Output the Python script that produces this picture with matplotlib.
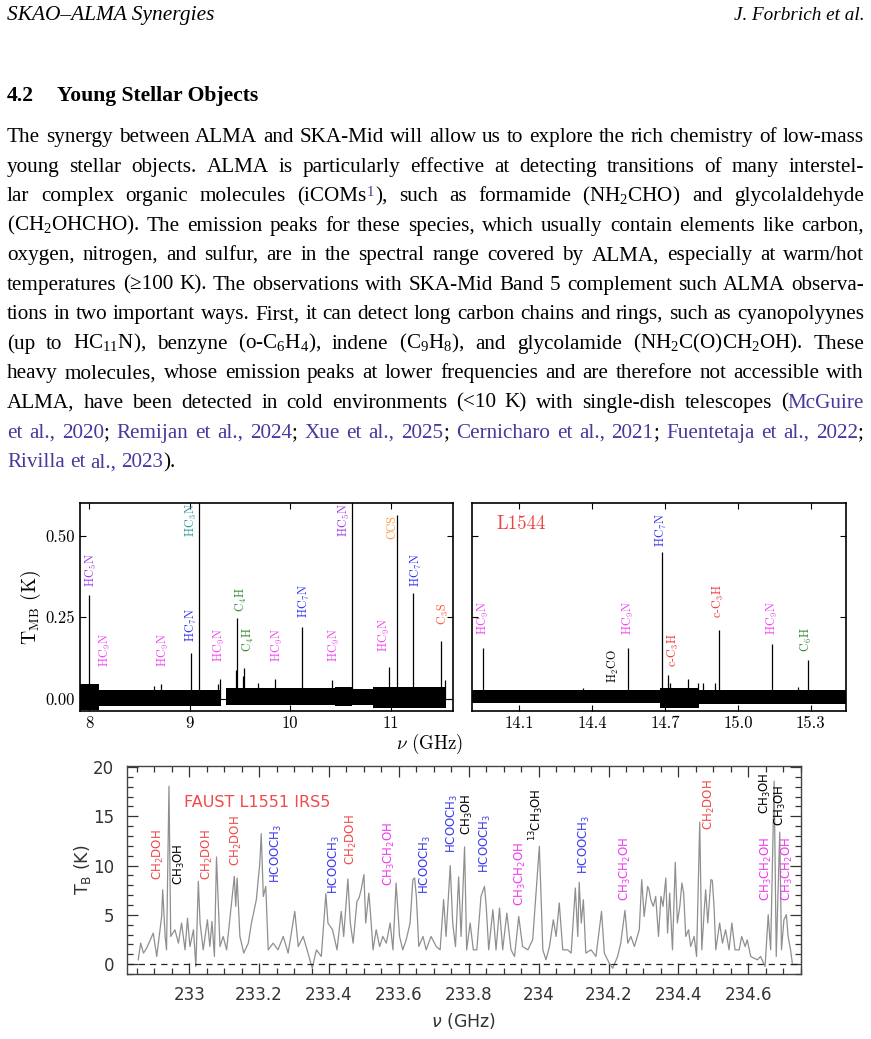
import matplotlib
matplotlib.use('Agg')
from matplotlib import pyplot as plt
import numpy as np

plt.rcParams['mathtext.fontset'] = 'custom'
plt.rcParams['mathtext.rm'] = 'Liberation Serif'
plt.rcParams['mathtext.it'] = 'Liberation Serif:italic'
plt.rcParams['mathtext.bf'] = 'Liberation Serif:bold'

W, H = 871, 1039
CITE = '#463a9c'
K = 'black'

# ---------------- page text ----------------
body = [
    [("The synergy between ALMA and SKA-Mid will allow us to explore the rich chemistry of low-mass", K)],
    [("young stellar objects.  ALMA is particularly effective at detecting transitions of many interstel-", K)],
    [("lar complex organic molecules (iCOMs", K), ("$^1$", CITE), ("), such as formamide (NH$_2$CHO) and glycolaldehyde", K)],
    [("(CH$_2$OHCHO). The emission peaks for these species, which usually contain elements like carbon,", K)],
    [("oxygen, nitrogen, and sulfur, are in the spectral range covered by ALMA, especially at warm/hot", K)],
    [("temperatures (\u2265100 K). The observations with SKA-Mid Band 5 complement such ALMA observa-", K)],
    [("tions in two important ways. First, it can detect long carbon chains and rings, such as cyanopolyynes", K)],
    [("(up to HC$_{11}$N), benzyne (o-C$_6$H$_4$), indene (C$_9$H$_8$), and glycolamide (NH$_2$C(O)CH$_2$OH). These", K)],
    [("heavy molecules, whose emission peaks at lower frequencies and are therefore not accessible with", K)],
    [("ALMA, have been detected in cold environments (<10 K) with single-dish telescopes (", K), ("McGuire", CITE)],
    [("et al., 2020", CITE), ("; ", K), ("Remijan et al., 2024", CITE), ("; ", K), ("Xue et al., 2025", CITE), ("; ", K),
     ("Cernicharo et al., 2021", CITE), ("; ", K), ("Fuentetaja et al., 2022", CITE), (";", K)],
    [("Rivilla et al., 2023", CITE), (").", K)],
]

# ---------------- top left: 8-11.6 GHz ----------------
tl_band_lo = [7.91, 8.10, 9.36, 10.45, 10.62, 10.82]
tl_band_hi = [8.10, 9.31, 10.45, 10.62, 10.82, 11.55]
tl_band_top = [0.045, 0.028, 0.034, 0.038, 0.031, 0.038]
tl_band_bot = [-0.034, -0.021, -0.018, -0.023, -0.020, -0.028]
tl_line_freq = [7.999, 8.645, 8.714, 9.012, 9.092, 9.283, 9.307, 9.466, 9.476, 9.532, 9.542,
                9.681, 9.853, 10.121, 10.419, 10.614, 10.988, 11.065, 11.227, 11.505, 11.545]
tl_line_peak = [0.318, 0.040, 0.045, 0.140, 0.700, 0.045, 0.060, 0.089, 0.248, 0.070, 0.095,
                0.050, 0.061, 0.221, 0.058, 0.700, 0.099, 0.563, 0.324, 0.178, 0.058]
tl_lab_text = ['HC$_5$N', 'HC$_9$N', 'HC$_9$N', 'HC$_7$N', 'HC$_3$N', 'HC$_9$N', 'C$_4$H', 'C$_4$H',
               'HC$_9$N', 'HC$_7$N', 'HC$_9$N', 'HC$_5$N', 'HC$_9$N', 'CCS', 'HC$_7$N', 'C$_3$S']
tl_lab_freq = [8.026, 8.168, 8.737, 9.019, 9.019, 9.300, 9.516, 9.581,
               9.879, 10.144, 10.442, 10.542, 10.939, 11.015, 11.254, 11.528]
tl_lab_base = [0.343, 0.099, 0.099, 0.175, 0.496, 0.114, 0.267, 0.145,
               0.114, 0.247, 0.114, 0.496, 0.145, 0.491, 0.343, 0.226]
tl_lab_col = ['#9a3be8', '#ee44ee', '#ee44ee', '#3030f0', '#2f9a9a', '#ee44ee', '#2f8a2f', '#2f8a2f',
              '#ee44ee', '#3030f0', '#ee44ee', '#9a3be8', '#ee44ee', '#ff9a3a', '#3030f0', '#ff5a3a']

# ---------------- top right: L1544 ----------------
tr_band_lo = [13.906, 14.68, 14.84]
tr_band_hi = [14.68, 14.84, 15.444]
tr_band_top = [0.028, 0.034, 0.028]
tr_band_bot = [-0.013, -0.028, -0.015]
tr_line_freq = [13.952, 14.364, 14.546, 14.686, 14.711, 14.720, 14.794, 14.837, 14.858, 14.906,
                14.924, 15.142, 15.247, 15.288]
tr_line_peak = [0.155, 0.034, 0.157, 0.450, 0.073, 0.050, 0.060, 0.050, 0.050, 0.050,
                0.211, 0.168, 0.035, 0.119]
tr_lab_text = ['HC$_9$N', 'H$_2$CO', 'HC$_9$N', 'HC$_7$N', 'c-C$_3$H', 'c-C$_3$H', 'HC$_9$N', 'C$_6$H']
tr_lab_freq = [13.952, 14.487, 14.549, 14.686, 14.734, 14.920, 15.142, 15.284]
tr_lab_base = [0.196, 0.049, 0.196, 0.466, 0.099, 0.247, 0.196, 0.145]
tr_lab_col = ['#ee44ee', 'black', '#ee44ee', '#3030f0', '#ee3a3a', '#ee3a3a', '#ee44ee', '#2f8a2f']

# ---------------- bottom: FAUST L1551 IRS5 ----------------
sp_freq = [232.854, 232.861, 232.869, 232.878, 232.897, 232.907, 232.921, 232.924, 232.931, 232.935,
           232.942, 232.947, 232.959, 232.969, 232.978, 232.988, 232.995, 233.002, 233.012, 233.019,
           233.026, 233.031, 233.040, 233.052, 233.059, 233.065, 233.072, 233.078, 233.088, 233.097,
           233.107, 233.116, 233.129, 233.133, 233.137, 233.145, 233.156, 233.169, 233.178, 233.192,
           233.202, 233.206, 233.212, 233.219, 233.226, 233.240, 233.254, 233.269, 233.283, 233.302,
           233.312, 233.326, 233.340, 233.352, 233.364, 233.378, 233.391, 233.397, 233.410, 233.423,
           233.435, 233.442, 233.454, 233.461, 233.469, 233.480, 233.486, 233.492, 233.500, 233.505,
           233.514, 233.518, 233.526, 233.535, 233.545, 233.554, 233.564, 233.575, 233.583, 233.592,
           233.602, 233.611, 233.621, 233.632, 233.640, 233.645, 233.650, 233.657, 233.669, 233.678,
           233.692, 233.707, 233.718, 233.728, 233.735, 233.747, 233.754, 233.762, 233.771, 233.778,
           233.788, 233.794, 233.804, 233.813, 233.823, 233.835, 233.845, 233.850, 233.857, 233.869,
           233.878, 233.888, 233.897, 233.909, 233.921, 233.931, 233.943, 233.954, 233.969, 233.983,
           234.002, 234.012, 234.021, 234.031, 234.042, 234.050, 234.059, 234.069, 234.083, 234.093,
           234.105, 234.112, 234.116, 234.122, 234.128, 234.135, 234.150, 234.164, 234.180, 234.188,
           234.202, 234.212, 234.226, 234.235, 234.247, 234.255, 234.264, 234.274, 234.288, 234.295,
           234.302, 234.312, 234.316, 234.321, 234.328, 234.335, 234.343, 234.350, 234.356, 234.364,
           234.369, 234.375, 234.383, 234.391, 234.397, 234.404, 234.410, 234.415, 234.421, 234.429,
           234.435, 234.445, 234.452, 234.461, 234.467, 234.474, 234.478, 234.484, 234.493, 234.497,
           234.502, 234.507, 234.518, 234.526, 234.535, 234.545, 234.553, 234.562, 234.574, 234.581,
           234.591, 234.597, 234.607, 234.616, 234.626, 234.635, 234.648, 234.657, 234.664, 234.674,
           234.680, 234.690, 234.695, 234.702, 234.709, 234.714, 234.721, 234.726]
sp_temp = [0.44, 2.13, 1.12, 1.62, 3.15, 0.78, 4.84, 7.55, 2.81, 1.45,
           18.05, 2.81, 3.49, 2.13, 4.17, 1.45, 4.67, 1.79, 3.49, -0.24,
           8.40, 4.17, 1.45, 4.50, 1.79, 4.34, 0.78, 10.87, 1.79, 2.81,
           1.45, 4.50, 8.91, 5.86, 8.74, 2.81, 1.12, 2.13, 4.17, 6.54,
           10.26, 13.24, 6.87, 7.89, 1.45, 2.13, 1.45, 2.81, 1.12, 5.35,
           1.79, 2.81, 1.12, -0.41, 1.45, 0.78, 7.15, 4.17, 3.49, 1.45,
           5.35, 2.81, 8.64, 4.17, 2.13, 6.37, 6.71, 7.55, 9.08, 4.17,
           7.21, 5.52, 1.45, 3.49, 1.79, 2.81, 2.13, 4.17, 1.45, 8.23,
           2.81, 1.45, 2.47, 4.17, 8.57, 8.74, 6.87, 1.79, 2.81, 1.45,
           2.81, 1.79, 1.45, 6.54, 2.81, 9.99, 4.17, 1.79, 8.84, 2.81,
           11.89, 1.45, 4.17, 1.45, 1.45, 6.87, 7.89, 5.86, 1.45, 5.52,
           1.45, 5.69, 1.45, 5.18, 1.45, 0.78, 4.84, 1.79, 1.45, 2.47,
           11.96, 1.45, 0.44, 1.79, 4.50, 2.81, 6.20, 1.45, 1.45, 1.12,
           7.72, 2.81, 8.30, 4.17, 6.54, 1.12, 1.45, 0.78, 5.35, 1.12,
           0.10, -0.41, 0.78, 2.13, 5.45, 2.13, 2.81, 1.79, 3.49, 8.57,
           4.84, 7.89, 7.55, 6.54, 5.86, 6.87, 2.81, 6.87, 5.86, 8.74,
           3.15, 7.21, 1.45, 10.33, 4.17, 5.86, 8.23, 7.21, 2.81, 3.49,
           1.79, 2.81, 0.78, 14.40, 1.45, 5.52, 7.55, 4.17, 8.57, 8.50,
           5.86, 1.45, 4.17, 2.13, 3.49, 1.45, 4.17, 1.45, 1.45, 2.81,
           1.79, 2.47, 0.78, 0.61, 0.44, 0.78, -0.24, 5.01, 1.45, 18.56,
           0.78, 13.38, 1.45, 4.50, 5.01, 2.81, 1.45, 0.10]
bt_lab_text = ['CH$_2$DOH', 'CH$_3$OH', 'CH$_2$DOH', 'CH$_2$DOH', 'HCOOCH$_3$', 'HCOOCH$_3$', 'CH$_2$DOH',
               'CH$_3$CH$_2$OH', 'HCOOCH$_3$', 'HCOOCH$_3$', 'CH$_3$OH', 'HCOOCH$_3$', 'CH$_3$CH$_2$OH',
               '$^{13}$CH$_3$OH', 'HCOOCH$_3$', 'CH$_3$CH$_2$OH', 'CH$_2$DOH', 'CH$_3$OH', 'CH$_3$CH$_2$OH',
               'CH$_3$OH', 'CH$_3$CH$_2$OH']
bt_lab_freq = [232.912, 232.971, 233.052, 233.135, 233.250, 233.416, 233.464,
               233.572, 233.676, 233.754, 233.797, 233.849, 233.949,
               233.993, 234.131, 234.249, 234.488, 234.649, 234.651,
               234.692, 234.711]
bt_lab_base = [8.56, 8.05, 8.56, 10.0, 8.2, 7.14, 10.1,
               7.9, 7.14, 11.3, 13.1, 9.2, 5.86,
               12.5, 9.18, 6.37, 13.65, 15.2, 6.37,
               13.98, 6.37]
RED, BLU, MAG = '#f04a4a', '#3a3aee', '#ee3aee'
bt_lab_col = [RED, K, RED, RED, BLU, BLU, RED,
              MAG, BLU, BLU, K, BLU, MAG,
              K, BLU, MAG, RED, K, MAG,
              K, MAG]


fig = plt.figure(figsize=(W / 100, H / 100), dpi=100)
r = fig.canvas.get_renderer()


def ptext(x, y, s, **kw):
    return fig.text(x / W, 1 - y / H, s, **kw)


def put_line(y, segs, justify=True, size=15.2, x0=7, x1=864):
    # split coloured segments into words, then spread words over the column
    words = [[]]
    for txt, col in segs:
        for k, p in enumerate(txt.split(' ')):
            if k > 0:
                words.append([])
            if p:
                words[-1].append((p, col))
    words = [w for w in words if w]
    items = []
    for w in words:
        parts = []
        for p, col in w:
            t = ptext(0, y, p, color=col, fontsize=size, family='Liberation Serif', va='baseline')
            parts.append((t, t.get_window_extent(r).width))
        items.append(parts)
    total = sum(wd for parts in items for _, wd in parts)
    gap = (x1 - x0 - total) / (len(items) - 1) if justify else size * 0.33
    x = x0
    for parts in items:
        for t, wd in parts:
            t.set_x(x / W)
            x += wd
        x += gap


ptext(7, 20, 'SKAO\u2013ALMA Synergies', fontsize=15.4, family='Liberation Serif', style='italic', va='baseline')
ptext(864, 20, 'J. Forbrich et al.', fontsize=13.8, family='Liberation Serif', style='italic', va='baseline', ha='right')
ptext(7, 101, '4.2', fontsize=15.6, family='Liberation Serif', weight='bold', va='baseline')
ptext(57, 101, 'Young Stellar Objects', fontsize=15.6, family='Liberation Serif', weight='bold', va='baseline')

for i, segs in enumerate(body):
    put_line(142 + 29.55 * i, segs, justify=(i < len(body) - 1))


# ---------------- panels ----------------
def top_panel(ax, band_lo, band_hi, band_top, band_bot, lf, lp, lt, lx, lb, lc):
    ax.axhline(0, color='k', lw=0.8)
    for a, b, t, u in zip(band_lo, band_hi, band_top, band_bot):
        ax.fill_between([a, b], [u, u], [t, t], color='k', lw=0)
    ax.vlines(lf, 0, lp, color='k', lw=0.9)
    for s, x, y, c in zip(lt, lx, lb, lc):
        ax.text(x, y, s, rotation=90, ha='center', va='bottom', color=c, fontsize=8.7,
                family='cmr10', math_fontfamily='cm')
    ax.set_ylim(-0.037, 0.60)
    ax.set_yticks([0, 0.25, 0.5])
    ax.tick_params(direction='in', length=4, width=0.8, labelsize=12, top=True, right=True)
    for sp in ax.spines.values():
        sp.set_linewidth(1.2)


ax1 = fig.add_axes([80 / W, 1 - 711 / H, 373 / W, 208 / H])
top_panel(ax1, tl_band_lo, tl_band_hi, tl_band_top, tl_band_bot, tl_line_freq, tl_line_peak,
          tl_lab_text, tl_lab_freq, tl_lab_base, tl_lab_col)
ax1.set_xlim(7.91, 11.62)
ax1.set_xticks([8, 9, 10, 11])
ax1.set_yticklabels(['0.00', '0.25', '0.50'], family='cmr10')
ax1.set_xticklabels(['8', '9', '10', '11'], family='cmr10')
ax1.set_ylabel(r'T$_{\rm MB}$ (K)', fontsize=14, family='cmr10', math_fontfamily='cm', labelpad=2)

ax2 = fig.add_axes([472.3 / W, 1 - 711 / H, 373.4 / W, 208 / H])
top_panel(ax2, tr_band_lo, tr_band_hi, tr_band_top, tr_band_bot, tr_line_freq, tr_line_peak,
          tr_lab_text, tr_lab_freq, tr_lab_base, tr_lab_col)
ax2.set_xlim(13.906, 15.444)
ax2.set_xticks([14.1, 14.4, 14.7, 15.0, 15.3])
ax2.set_xticklabels(['14.1', '14.4', '14.7', '15.0', '15.3'], family='cmr10')
ax2.tick_params(labelleft=False)
ax2.text(0.065, 0.9, 'L1544', transform=ax2.transAxes, color='#ee4444', fontsize=13.5,
         family='cmr10', va='center')

ptext(430, 744, r'$\nu$ (GHz)', fontsize=13.5, family='cmr10', math_fontfamily='cm', ha='center', va='center')

ax3 = fig.add_axes([126.7 / W, 1 - 974 / H, 674 / W, 208 / H])
ax3.plot(sp_freq, sp_temp, color='#8f8f8f', lw=0.9)
ax3.axhline(0, color='#222222', lw=0.9, ls=(0, (5, 4)))
for s, x, y, c in zip(bt_lab_text, bt_lab_freq, bt_lab_base, bt_lab_col):
    ax3.text(x, y, s, rotation=90, ha='center', va='bottom', color=c, fontsize=8.5,
             family='DejaVu Sans', math_fontfamily='dejavusans')
ax3.text(0.085, 0.825, 'FAUST L1551 IRS5', transform=ax3.transAxes, color='#f04a4a', fontsize=11.5,
         family='DejaVu Sans', va='center')
ax3.set_xlim(232.821, 234.747)
ax3.set_ylim(-1.0, 20.1)
ax3.set_xticks([233, 233.2, 233.4, 233.6, 233.8, 234, 234.2, 234.4, 234.6])
ax3.set_xticklabels(['233', '233.2', '233.4', '233.6', '233.8', '234', '234.2', '234.4', '234.6'])
ax3.set_xticks(np.arange(232.85, 234.75, 0.05), minor=True)
ax3.set_yticks([0, 5, 10, 15, 20])
ax3.set_yticks(np.arange(-1, 21, 1), minor=True)
ax3.tick_params(which='both', direction='in', top=True, right=True, colors='#333333',
                labelsize=12, width=0.9)
ax3.tick_params(which='major', length=8, pad=9)
ax3.tick_params(which='minor', length=4)
for sp in ax3.spines.values():
    sp.set_linewidth(1.0)
    sp.set_color('#444444')
ax3.set_ylabel('T$_{\\rm B}$ (K)', fontsize=12.5, color='#333333', math_fontfamily='dejavusans', labelpad=0)
ax3.set_xlabel(r'$\nu$ (GHz)', fontsize=12.5, color='#333333', math_fontfamily='dejavusans', labelpad=5)

fig.savefig('out.png', dpi=100)
